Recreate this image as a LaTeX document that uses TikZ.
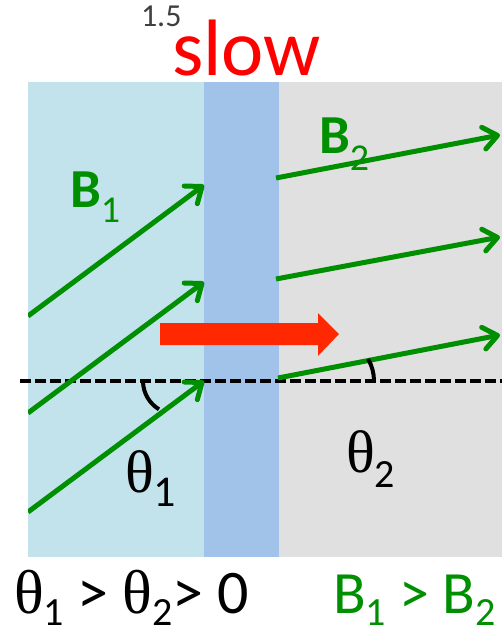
\documentclass[tikz,border=0pt]{standalone}
\usepackage{fontspec}
\setmainfont{Carlito}
\newfontfamily\symf{Liberation Serif}
\usetikzlibrary{arrows.meta}
\definecolor{lblue}{HTML}{C3E3EC}
\definecolor{mblue}{HTML}{A1C3E9}
\definecolor{lgray}{HTML}{E0E0E0}
\definecolor{bgreen}{HTML}{008F00}
\definecolor{arrred}{HTML}{FF2800}
\definecolor{numgray}{HTML}{404040}
\newcommand{\fs}[1]{\fontsize{#1pt}{#1pt}\selectfont}
\newcommand{\sbs}[3]{\raisebox{-#1pt}{\fs{#2}#3}}
\begin{document}
\begin{tikzpicture}[x=1pt,y=-1pt,inner sep=0pt,outer sep=0pt,
  field/.style={draw=bgreen,line width=5pt,line cap=butt,
    -{Straight Barb[length=14pt,width=22pt,line cap=round,line join=round]}},
  dashline/.style={draw=black,line width=3.8pt,dash pattern=on 11pt off 4pt},
  anglearc/.style={draw=black,line width=4pt},
  lbl/.style={anchor=base west}]
\useasboundingbox (0,0) rectangle (502,632);
% media
\fill[lblue] (28,82) rectangle (204,557);
\fill[mblue] (204,82) rectangle (279,557);
\fill[lgray] (279,82) rectangle (502,557);
% titles
\node[lbl,text=numgray] (n15) at (141,26) {\fs{32}1.5};
\node[lbl,text=red] (slow) at (172,75) {\fs{80}slow};
% dashed normal line
\coordinate (dl) at (20,381);
\coordinate (dr) at (502,381);
\draw[dashline] (dl) -- (dr);
% red arrow
\fill[arrred] (160,323) -- (318,323) -- (318,313) -- (339,334) -- (318,356) -- (318,345) -- (160,345) -- cycle;
% field lines
\coordinate (l1s) at (28,316); \coordinate (l1e) at (204,185);
\coordinate (l2s) at (28,413); \coordinate (l2e) at (204,282);
\coordinate (l3s) at (28,512); \coordinate (l3e) at (204,381);
\coordinate (r1s) at (276,178); \coordinate (r1e) at (500,135);
\coordinate (r2s) at (276,279); \coordinate (r2e) at (500,237);
\coordinate (r3s) at (278,378); \coordinate (r3e) at (500,335);
\begin{scope}
\clip (28,0) rectangle (502,632);
\draw[field] (l1s) -- (l1e);
\draw[field] (l2s) -- (l2e);
\draw[field] (l3s) -- (l3e);
\draw[field] (r1s) -- (r1e);
\draw[field] (r2s) -- (r2e);
\draw[field] (r3s) -- (r3e);
\end{scope}
% angle arcs
\draw[anglearc] (176,381) ++(178:33) arc[start angle=178,end angle=121,radius=33];
\draw[anglearc] (330,381) ++(0:44) arc[start angle=0,end angle=-30,radius=44];
% labels
\node[lbl,text=bgreen] (b1) at (70,207) {\fs{55}\textbf{B}\sbs{15}{38}{1}};
\node[lbl,text=bgreen] (b2) at (319,153) {\fs{55}\textbf{B}\sbs{17}{38}{2}};
\node[lbl] (t1) at (125,492) {\fs{60}{\symf θ}\sbs{14}{44}{1}};
\node[lbl] (t2) at (346,472) {\fs{60}{\symf θ}\sbs{15}{40}{2}};
% bottom relations
\node[lbl] (rel1) at (14,613) {\fs{62}{\symf θ}\sbs{12}{40}{1} > {\symf θ}\sbs{12}{40}{2}> 0};
\node[lbl,text=bgreen] (rel2) at (333,613) {\fs{60}B\sbs{12}{40}{1} > B\sbs{12}{40}{2}};
\end{tikzpicture}
\end{document}
